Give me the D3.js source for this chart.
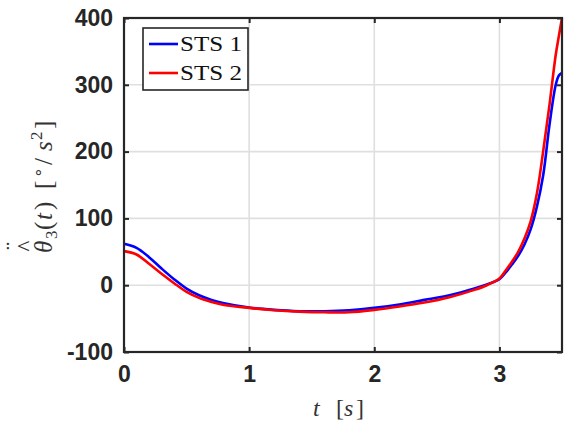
<!DOCTYPE html>
<html><head><meta charset="utf-8">
<script src="https://cdn.jsdelivr.net/npm/d3@7"></script>
<style>body{margin:0;background:#fff}svg{display:block}</style>
</head><body>
<svg id="c" width="565" height="427"></svg>
<script>
// ---- data ----
const tValues = [0,0.1,0.2,0.3,0.4,0.5,0.6,0.7,0.8,1.0,1.2,1.4,1.6,1.8,2.0,2.2,2.4,2.6,2.8,2.9,3.0,3.05,3.1,3.15,3.2,3.25,3.3,3.35,3.4,3.45,3.475,3.5];
const sts1 = [62,56,42,25,9,-5,-15,-22,-27,-33.5,-37,-39,-39,-37.5,-34,-29,-22,-15,-5,1,9,19,31,44,61,84,118,165,240,300,314,318];
const sts2 = [51,46,32,17,3,-10,-19,-25,-29.5,-34,-37.5,-39.5,-40.5,-40.5,-37,-32,-26,-18,-7,0,10,22,35,50,70,96,138,201,270,345,373,400];
const seriesNames = ["STS 1","STS 2"];
const seriesColors = ["#0000ff","#ff0000"];
const xTicks = [0,1,2,3];
const yTicks = [-100,0,100,200,300,400];

const svg = d3.select("#c");
const L=124, R=562, T=18, B=352;
const x = d3.scaleLinear().domain([0,3.5]).range([L,R]);
const y = d3.scaleLinear().domain([-100,400]).range([B,T]);
const dark = "#262626";

// grid
const g = svg.append("g");
g.selectAll(".gx").data(xTicks.filter(d=>d>0)).enter().append("line")
  .attr("x1",d=>x(d)).attr("x2",d=>x(d)).attr("y1",T).attr("y2",B)
  .attr("stroke","#dfdfdf").attr("stroke-width",1.6);
g.selectAll(".gy").data(yTicks.filter(d=>d>-100&&d<400)).enter().append("line")
  .attr("x1",L).attr("x2",R).attr("y1",d=>y(d)).attr("y2",d=>y(d))
  .attr("stroke","#dfdfdf").attr("stroke-width",1.6);

// axes with inward ticks
const tickFont = "'Liberation Sans', Arial, sans-serif";
const fmt = d => String(d);
const ax = svg.append("g").attr("transform",`translate(0,${B})`)
  .call(d3.axisBottom(x).tickValues(xTicks).tickSizeInner(-5).tickSizeOuter(0).tickPadding(13).tickFormat(fmt));
const axT = svg.append("g").attr("transform",`translate(0,${T})`)
  .call(d3.axisTop(x).tickValues(xTicks).tickSizeInner(-5).tickSizeOuter(0).tickFormat(""));
const ay = svg.append("g").attr("transform",`translate(${L},0)`)
  .call(d3.axisLeft(y).tickValues(yTicks).tickSizeInner(-5).tickSizeOuter(0).tickPadding(11).tickFormat(fmt));
const ayR = svg.append("g").attr("transform",`translate(${R},0)`)
  .call(d3.axisRight(y).tickValues(yTicks).tickSizeInner(-5).tickSizeOuter(0).tickFormat(""));
[ax,axT,ay,ayR].forEach(a=>{
  a.select(".domain").remove();
  a.selectAll(".tick line").attr("stroke",dark).attr("stroke-width",2);
  a.selectAll("text").attr("fill",dark).style("font-family",tickFont).style("font-weight","bold").style("font-size","23px");
});
ax.selectAll("text").attr("dy","0.75em");

// lines
const data = [sts1, sts2];
const line = d3.line().x((d,i)=>x(tValues[i])).y(d=>y(d)).curve(d3.curveCatmullRom.alpha(0.5));
const plot = svg.append("g");
plot.selectAll("path.s").data(data).enter().append("path")
  .attr("d",d=>line(d)).attr("fill","none")
  .attr("stroke",(d,i)=>seriesColors[i]).attr("stroke-width",2.6);

// box
svg.append("rect").attr("x",L).attr("y",T).attr("width",R-L).attr("height",B-T)
  .attr("fill","none").attr("stroke",dark).attr("stroke-width",2.2);

// legend
const serif = "'Liberation Serif', 'Times New Roman', serif";
const lg = svg.append("g");
lg.append("rect").attr("x",143).attr("y",28).attr("width",105).attr("height",62)
  .attr("fill","#fff").attr("stroke",dark).attr("stroke-width",1.6);
seriesNames.forEach((n,i)=>{
  const yy = 44 + i*29;
  lg.append("line").attr("x1",149).attr("x2",178).attr("y1",yy).attr("y2",yy)
    .attr("stroke",seriesColors[i]).attr("stroke-width",2.6);
  lg.append("text").attr("x",180).attr("y",yy+7).text(n)
    .attr("fill","#111").style("font-family",serif).style("font-size","22px")
    .attr("textLength",62).attr("lengthAdjust","spacingAndGlyphs");
});

// x label
const xl = svg.append("text").attr("y",416)
  .attr("fill","#333").style("font-family",serif).style("font-size","24px");
xl.append("tspan").attr("x",313).style("font-style","italic").text("t");
xl.append("tspan").attr("x",336).text("[");
xl.append("tspan").attr("x",344).style("font-style","italic").text("s");
xl.append("tspan").attr("x",356).text("]");

// y label (rotated): local x' = -screenY, local y' = screenX - 52
const yg = svg.append("g").attr("transform","translate(52,0) rotate(-90)");
const fs = 25;
const lab = yg.append("text").attr("y",0).attr("fill","#333")
  .style("font-family",serif).style("font-size",fs+"px");
lab.append("tspan").attr("x",-253).style("font-style","italic").text("θ");
lab.append("tspan").attr("x",-239).attr("dy",5).style("font-size","17px").text("3");
lab.append("tspan").attr("x",-230).attr("dy",-5).text("(");
lab.append("tspan").attr("x",-220).style("font-style","italic").text("t");
lab.append("tspan").attr("x",-210).text(")");
lab.append("tspan").attr("x",-189).text("[");
lab.append("tspan").attr("x",-178).attr("dy",-9).style("font-size","17px").text("∘");
lab.append("tspan").attr("x",-165).attr("dy",9).text("/");
lab.append("tspan").attr("x",-151).style("font-style","italic").text("s");
lab.append("tspan").attr("x",-140).attr("dy",-10).style("font-size","17px").text("2");
lab.append("tspan").attr("x",-129).attr("dy",10).text("]");

function placeCentered(txt, size, cx, cy){
  const t = yg.append("text").attr("x",0).attr("y",0).attr("fill","#333")
    .style("font-family",serif).style("font-size",size+"px").text(txt);
  const b = t.node().getBBox();
  t.attr("x", cx - (b.x + b.width/2)).attr("y", cy - (b.y + b.height/2));
}
placeCentered("^", 23, -246, -27);
placeCentered("¨", 24, -246, -39);
</script>
</body></html>
